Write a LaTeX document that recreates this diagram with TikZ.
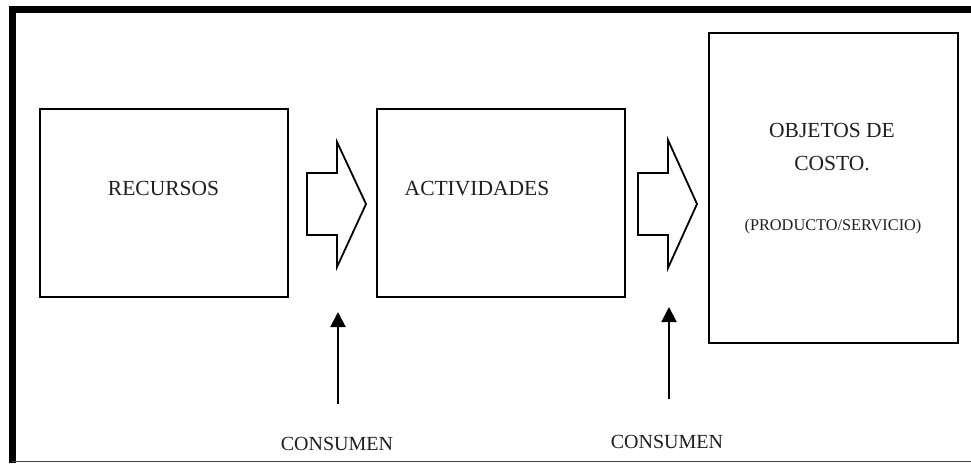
\documentclass[tikz,border=0pt]{standalone}
\usepackage{fontspec}
\setmainfont{Liberation Serif}
\usetikzlibrary{arrows.meta}
\begin{document}
\begin{tikzpicture}[x=1pt,y=-1pt,
  box/.style={draw=black,line width=1.8pt},
  blockarrow/.style={draw=black,line width=1.8pt,line join=miter},
  lbl/.style={anchor=base,inner sep=0pt,text=black!88,font=\fontsize{21.5}{24}\selectfont},
  small/.style={anchor=base,inner sep=0pt,text=black!88,font=\fontsize{16.3}{19}\selectfont},
  cons/.style={anchor=base,inner sep=0pt,text=black!88,font=\fontsize{20}{23}\selectfont},
  uparrow/.style={line width=2pt,-{Triangle[length=15pt,width=15pt]}}]
\useasboundingbox (0,0) rectangle (971,463);
\fill[white] (0,0) rectangle (971,463);
% frame
\draw[line width=7pt] (12.5,463) -- (12.5,9.5) -- (971,9.5);
\draw[line width=1pt,black!75] (12,461) -- (971,461);
% boxes
\draw[box] (40,109) rectangle (288,297);
\draw[box] (377,109) rectangle (625,297);
\draw[box] (709,33) rectangle (958,343);
\coordinate (b1) at (164,188);
\coordinate (b2) at (501,188);
% block arrows
\draw[blockarrow] (307,173) -- (337,173) -- (337,142) -- (366,204) -- (337,267) -- (337,235) -- (307,235) -- cycle;
\draw[blockarrow] (638,173) -- (668,173) -- (668,140) -- (697,204) -- (668,268) -- (668,235) -- (638,235) -- cycle;
% texts
\node[lbl] (t1) at (163.5,195) {RECURSOS};
\node[lbl] (t2) at (477,195) {ACTIVIDADES};
\node[lbl] (t3) at (832,137) {OBJETOS DE};
\node[lbl] (t4) at (832,170) {COSTO.};
\node[small] (t5) at (833,230) {(PRODUCTO/SERVICIO)};
\node[cons] (c1) at (337,450) {CONSUMEN};
\node[cons] (c2) at (667,448) {CONSUMEN};
% up arrows
\coordinate (a1s) at (338,404);
\coordinate (a1e) at (338,312);
\coordinate (a2s) at (669,399);
\coordinate (a2e) at (669,307);
\draw[uparrow] (a1s) -- (a1e);
\draw[uparrow] (a2s) -- (a2e);
\end{tikzpicture}
\end{document}
